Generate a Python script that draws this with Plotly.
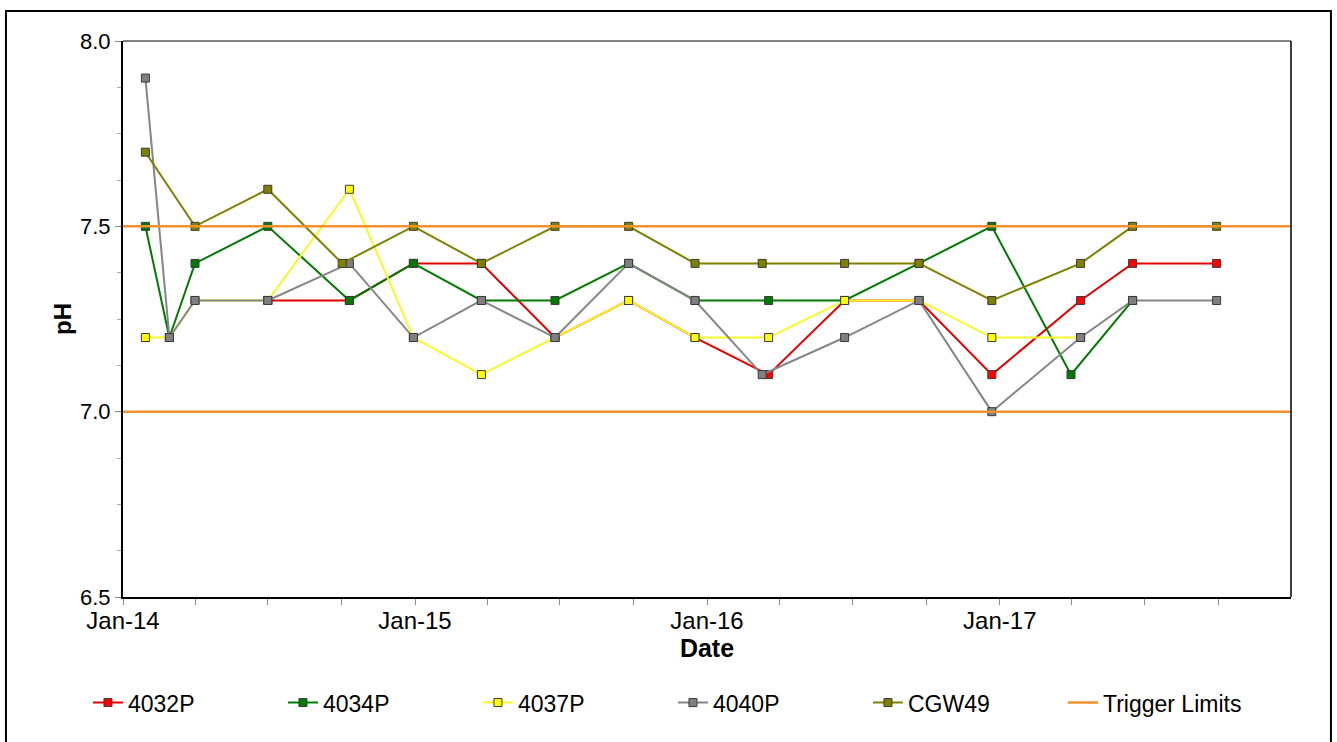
import plotly.graph_objects as go

# Sampling dates (some wells were sampled a few days apart)
dates = [
    '2014-01-29', '2014-02-28', '2014-04-01', '2014-07-01', '2014-10-02',
    '2014-10-11', '2014-12-30', '2015-03-25', '2015-06-25', '2015-09-25',
    '2015-12-17', '2016-03-10', '2016-03-18', '2016-06-21', '2016-09-22',
    '2016-12-22', '2017-03-31', '2017-04-12', '2017-06-16', '2017-09-29',
]

# pH readings per well (None = not sampled on that date)
ph_4032P = [None, None, None, 7.3, None, 7.3, 7.4, 7.4, 7.2, 7.3,
            7.2, None, 7.1, 7.3, 7.3, 7.1, None, 7.3, 7.4, 7.4]
ph_4034P = [7.5, 7.2, 7.4, 7.5, None, 7.3, 7.4, 7.3, 7.3, 7.4,
            7.3, None, 7.3, 7.3, 7.4, 7.5, 7.1, None, 7.3, None]
ph_4037P = [7.2, 7.2, 7.3, 7.3, None, 7.6, 7.2, 7.1, 7.2, 7.3,
            7.2, None, 7.2, 7.3, 7.3, 7.2, None, 7.2, None, None]
ph_4040P = [7.9, 7.2, 7.3, 7.3, None, 7.4, 7.2, 7.3, 7.2, 7.4,
            7.3, 7.1, None, 7.2, 7.3, 7.0, None, 7.2, 7.3, 7.3]
ph_CGW49 = [7.7, None, 7.5, 7.6, 7.4, None, 7.5, 7.4, 7.5, 7.5,
            7.4, 7.4, None, 7.4, 7.4, 7.3, None, 7.4, 7.5, 7.5]

trigger_limits = [7.5, 7.0]
x_range = ['2014-01-01', '2017-12-31']

FONT = 'Arial, Liberation Sans, sans-serif'

series = [
    ('4032P', ph_4032P, '#E00000', '#FF0000'),
    ('4034P', ph_4034P, '#007A00', '#007A00'),
    ('4037P', ph_4037P, '#F8F828', '#FFFF00'),
    ('4040P', ph_4040P, '#858585', '#808080'),
    ('CGW49', ph_CGW49, '#7F7F00', '#808000'),
]

fig = go.Figure()

for name, vals, line_col, mark_col in series:
    fig.add_trace(go.Scatter(
        x=dates, y=vals, name=name, mode='lines+markers',
        connectgaps=True,
        line=dict(color=line_col, width=2),
        marker=dict(symbol='square', size=8, color=mark_col,
                    line=dict(color='#3a3a3a', width=1)),
    ))

# trigger limits drawn on top of the markers, one legend entry
tx, ty = [], []
for lim in trigger_limits:
    tx += [x_range[0], x_range[1], None]
    ty += [lim, lim, None]
fig.add_trace(go.Scatter(
    x=tx, y=ty, name='Trigger Limits', mode='lines',
    line=dict(color='#F0912E', width=2.5),
))

fig.update_layout(
    width=1337, height=742,
    margin=dict(l=123, r=46, t=41, b=145),
    paper_bgcolor='white', plot_bgcolor='white',
    font=dict(family=FONT, size=23, color='black'),
    showlegend=True,
    legend=dict(
        orientation='h', x=-0.03, xanchor='left', y=-0.19, yanchor='middle',
        entrywidth=150, entrywidthmode='pixels',
        font=dict(size=23), itemwidth=30, traceorder='normal',
    ),
    xaxis=dict(
        type='date', range=x_range,
        dtick='M12', tick0='2014-01-01', tickformat='%b-%y',
        ticks='outside', ticklen=6, tickcolor='#888888',
        minor=dict(dtick='M3', ticks='outside', ticklen=6, tickcolor='#888888'),
        showgrid=False, zeroline=False,
        showline=True, linecolor='black', linewidth=2,
        title=dict(text='<b>Date</b>', font=dict(size=25), standoff=2),
        tickfont=dict(size=24), ticklabelstandoff=-5,
    ),
    yaxis=dict(
        range=[6.5, 8.0], dtick=0.5, tickformat='.1f',
        ticks='outside', ticklen=6, tickcolor='#888888',
        minor=dict(dtick=0.125, ticks='outside', ticklen=4, tickcolor='#aaaaaa'),
        showgrid=False, zeroline=False,
        showline=True, linecolor='black', linewidth=2,
        title=dict(text='<b>pH</b>', font=dict(size=24), standoff=2),
        tickfont=dict(size=22),
    ),
)

# plot-area top (grey) and right (black) edges
fig.add_shape(type='line', xref='paper', yref='paper', x0=0, x1=1, y0=1, y1=1,
              line=dict(color='#808080', width=2))
fig.add_shape(type='line', xref='paper', yref='paper', x0=1, x1=1, y0=0, y1=1,
              line=dict(color='black', width=1.5))
# outer chart frame
fig.add_shape(type='rect', xref='paper', yref='paper',
              x0=-0.1002, x1=1.0342, y0=-0.27, y1=1.054,
              line=dict(color='black', width=2))

# drop the default page margin so the figure sits at the window's corner
fig.write_html('out.html',
               config={'displayModeBar': False},
               post_script="document.body.style.margin='0';"
                           "document.body.style.overflow='hidden';")
